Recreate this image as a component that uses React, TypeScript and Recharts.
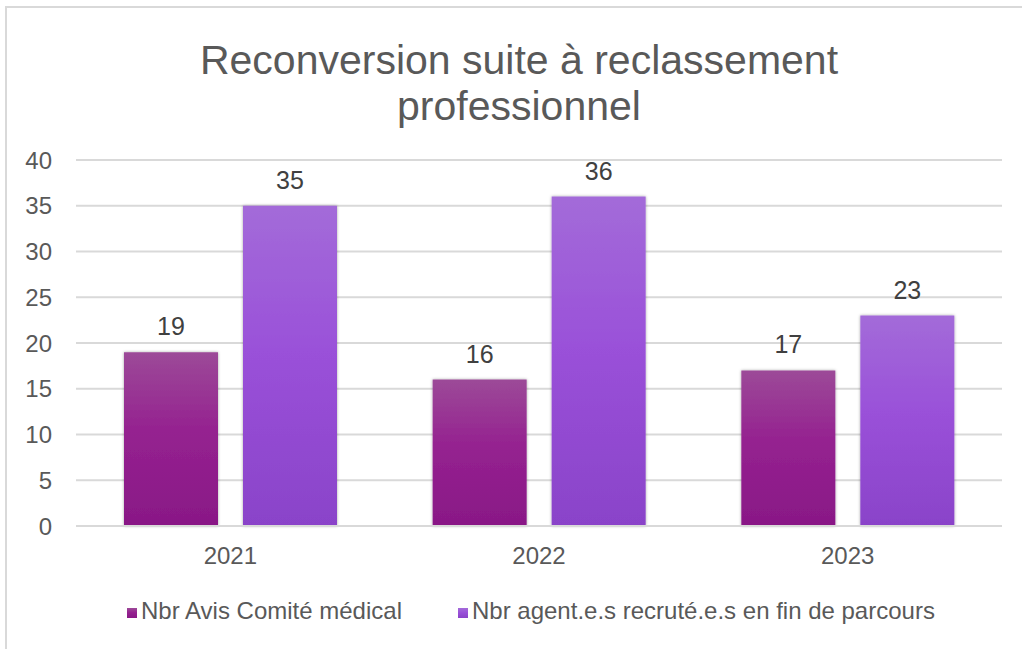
import React from "react";
import { BarChart, Bar, XAxis, YAxis, CartesianGrid, Legend, LabelList } from "recharts";

const years = ["2021", "2022", "2023"];
const avisComite = [19, 16, 17];
const agentsRecrutes = [35, 36, 23];
const yTicks = [0, 5, 10, 15, 20, 25, 30, 35, 40];

const data = years.map((y, i) => ({
  year: y,
  avis: avisComite[i],
  agents: agentsRecrutes[i],
}));

const FONT = "'Liberation Sans', Arial, sans-serif";
const GREY = "#595959";

export default function App() {
  return (
    <div style={{ position: "fixed", left: 0, top: 0, width: 1022, height: 649, background: "#fff", overflow: "hidden", fontFamily: FONT }}>
      {/* cadre du graphique */}
      <div style={{ position: "absolute", left: 5, top: 6, width: 1040, height: 660, border: "2px solid #d9d9d9" }} />

      <div style={{ position: "absolute", left: 0, top: 37, width: 1038, textAlign: "center", fontSize: 41, lineHeight: "46px", color: GREY }}>
        Reconversion suite à reclassement<br />professionnel
      </div>

      <div style={{ position: "absolute", left: 0, top: 0 }}>
        <BarChart
          width={1022}
          height={649}
          data={data}
          margin={{ top: 160, right: 20, left: 0, bottom: 0 }}
          barCategoryGap={48}
          barGap={25}
        >
          <defs>
            <linearGradient id="gradAvis" x1="0" y1="0" x2="0" y2="1">
              <stop offset="0%" stopColor="#9c4a98" />
              <stop offset="45%" stopColor="#952290" />
              <stop offset="100%" stopColor="#891886" />
            </linearGradient>
            <linearGradient id="gradAgents" x1="0" y1="0" x2="0" y2="1">
              <stop offset="0%" stopColor="#a36bd9" />
              <stop offset="45%" stopColor="#9a51d9" />
              <stop offset="100%" stopColor="#8a43c9" />
            </linearGradient>
            <filter id="barShadow" x="-10%" y="-10%" width="120%" height="120%">
              <feDropShadow dx="0" dy="0" stdDeviation="1.5" floodColor="#000" floodOpacity="0.35" />
            </filter>
          </defs>
          <CartesianGrid vertical={false} stroke="#d9d9d9" strokeWidth={2} />
          <XAxis
            dataKey="year"
            axisLine={{ stroke: "#d9d9d9", strokeWidth: 2 }}
            tickLine={false}
            tick={{ fill: GREY, fontSize: 24, fontFamily: FONT }}
            tickMargin={15}
            height={95}
          />
          <YAxis
            domain={[0, 40]}
            ticks={yTicks}
            axisLine={false}
            tickLine={false}
            tick={{ fill: GREY, fontSize: 24, fontFamily: FONT }}
            tickSize={0}
            tickMargin={24}
            width={76}
          />
          <Legend
            verticalAlign="bottom"
            align="left"
            iconType="square"
            iconSize={10}
            wrapperStyle={{ left: 127, width: 880, bottom: 24, fontFamily: FONT, fontSize: 24 }}
            formatter={(v: string) => <span style={{ color: GREY, marginRight: 46 }}>{v}</span>}
          />
          <Bar dataKey="avis" name="Nbr Avis Comité médical" fill="url(#gradAvis)" legendType="square" filter="url(#barShadow)" isAnimationActive={false}>
            <LabelList dataKey="avis" position="top" offset={17} fill="#404040" fontSize={25} fontFamily={FONT} />
          </Bar>
          <Bar dataKey="agents" name="Nbr agent.e.s recruté.e.s en fin de parcours" fill="url(#gradAgents)" legendType="square" filter="url(#barShadow)" isAnimationActive={false}>
            <LabelList dataKey="agents" position="top" offset={17} fill="#404040" fontSize={25} fontFamily={FONT} />
          </Bar>
        </BarChart>
      </div>
    </div>
  );
}
